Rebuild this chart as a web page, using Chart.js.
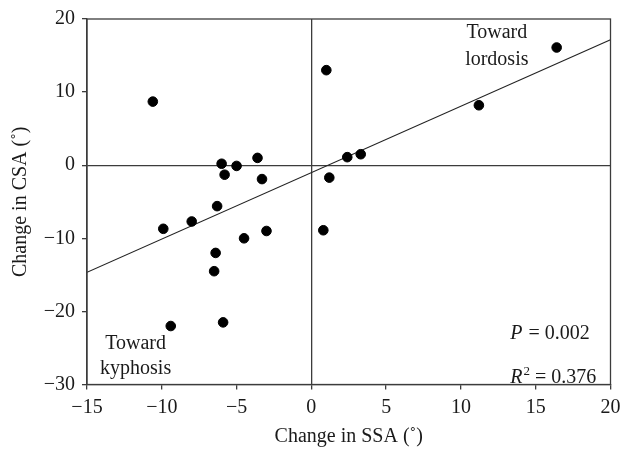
<!DOCTYPE html>
<html>
<head>
<meta charset="utf-8">
<script src="https://cdn.jsdelivr.net/npm/chart.js@4/dist/chart.umd.min.js"></script>
<style>
  html, body { margin: 0; padding: 0; background: #fff; }
  #wrap { width: 622px; height: 452px; }
</style>
</head>
<body>
<div id="wrap"><canvas id="chart"></canvas></div>
<script>
// Change in SSA (x) vs change in CSA (y), one point per subject
const ssaChange = [-10.6, -6.0, -5.8, -5.0, -3.6, -3.3, -6.3, -8.0, -9.9, -4.5, -3.0, -6.4, -6.5, -5.9, -9.4, 0.8, 1.0, 2.4, 3.3, 1.2, 11.2, 16.4];
const csaChange = [8.7, 0.2, -1.3, -0.1, 1.0, -1.9, -5.6, -7.7, -8.7, -10.0, -9.0, -12.0, -14.5, -21.5, -22.0, -8.9, 13.0, 1.1, 1.5, -1.7, 8.2, 16.1];

// regression line end points
const fitX = [-15, 20];
const fitY = [-14.65, 17.15];

const xTitle = "Change in SSA (˚)";
const yTitle = "Change in CSA (˚)";
const noteLordosis = ["Toward", "lordosis"];
const noteKyphosis = ["Toward", "kyphosis"];
const pValue = "0.002";
const r2Value = "0.376";

const serif = "'Liberation Serif', 'DejaVu Serif', serif";
const ink = "#1a1a1a";
const axisGrey = "#3c3c3c";
const fs = 20;

// frame round the plot area plus the text notes
const notesPlugin = {
  id: "notes",
  afterDraw(chart) {
    const c = chart.ctx;
    const a = chart.chartArea;
    const xs = chart.scales.x, ys = chart.scales.y;
    c.save();
    c.strokeStyle = axisGrey;
    c.lineWidth = 1.3;
    c.strokeRect(a.left, a.top, a.right - a.left, a.bottom - a.top);

    c.fillStyle = ink;
    c.font = fs + "px " + serif;
    c.textAlign = "center";
    c.textBaseline = "alphabetic";
    let cx = xs.getPixelForValue(12.4);
    c.fillText(noteLordosis[0], cx, ys.getPixelForValue(17.4));
    c.fillText(noteLordosis[1], cx, ys.getPixelForValue(13.65));
    cx = xs.getPixelForValue(-11.75);
    c.fillText(noteKyphosis[0], cx, ys.getPixelForValue(-25.2));
    c.fillText(noteKyphosis[1], cx, ys.getPixelForValue(-28.6));

    // P and R² lines, left aligned
    c.textAlign = "left";
    const lx = xs.getPixelForValue(13.3);
    let y = ys.getPixelForValue(-23.75);
    c.font = "italic " + fs + "px " + serif;
    let w = c.measureText("P").width;
    c.fillText("P", lx, y);
    c.font = fs + "px " + serif;
    c.fillText(" = " + pValue, lx + w + 1, y);

    y = ys.getPixelForValue(-29.75);
    c.font = "italic " + fs + "px " + serif;
    w = c.measureText("R").width;
    c.fillText("R", lx, y);
    c.font = "13px " + serif;
    c.fillText("2", lx + w + 1, y - 8);
    const ws = c.measureText("2").width;
    c.font = fs + "px " + serif;
    c.fillText(" = " + r2Value, lx + w + ws + 1, y);
    c.restore();
  }
};

const zeroLine = (ctx) => (ctx.tick && ctx.tick.value === 0) ? axisGrey : "rgba(0,0,0,0)";
const minus = (v) => String(v).replace("-", "\u2212");

new Chart(document.getElementById("chart"), {
  type: "scatter",
  data: {
    datasets: [
      {
        label: "Subjects",
        data: ssaChange.map((x, i) => ({ x: x, y: csaChange[i] })),
        backgroundColor: "#000",
        borderColor: "#000",
        pointRadius: 4.8,
        pointHoverRadius: 4.8
      },
      {
        label: "Fit",
        type: "line",
        data: fitX.map((x, i) => ({ x: x, y: fitY[i] })),
        borderColor: "#222",
        borderWidth: 1.1,
        pointRadius: 0,
        fill: false
      }
    ]
  },
  options: {
    responsive: true,
    maintainAspectRatio: false,
    animation: false,
    layout: { padding: { top: 17.5, right: 11.5, left: 0, bottom: 0 } },
    plugins: {
      legend: { display: false },
      tooltip: { enabled: false }
    },
    scales: {
      x: {
        type: "linear",
        min: -15,
        max: 20,
        afterFit: (s) => { s.height = 67.5; s.paddingRight = 0; s.paddingLeft = 0; },
        ticks: { stepSize: 5, color: ink, font: { family: serif, size: fs }, padding: 6, callback: minus },
        grid: { color: zeroLine, lineWidth: 1.3, tickColor: axisGrey, tickLength: 5, drawTicks: true },
        border: { color: axisGrey, width: 1.3 },
        title: { display: true, text: xTitle, color: ink, font: { family: serif, size: fs }, padding: { top: 0, bottom: 3 } }
      },
      y: {
        type: "linear",
        min: -30,
        max: 20,
        afterFit: (s) => { s.width = 87; },
        ticks: { stepSize: 10, color: ink, font: { family: serif, size: fs }, padding: 7, callback: minus },
        grid: { color: zeroLine, lineWidth: 1.3, tickColor: axisGrey, tickLength: 5, drawTicks: true },
        border: { color: axisGrey, width: 1.3 },
        title: { display: true, text: yTitle, color: ink, font: { family: serif, size: fs }, padding: { top: 9, bottom: 0 } }
      }
    }
  },
  plugins: [notesPlugin]
});
</script>
</body>
</html>
